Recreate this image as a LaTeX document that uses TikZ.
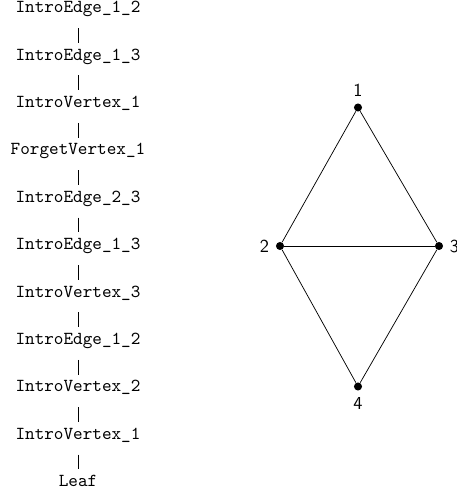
\documentclass[tikz,border=0pt]{standalone}
\usetikzlibrary{positioning}

\begin{document}
\begin{tikzpicture}[x=0.5464pt, y=0.5464pt]
  \newcommand\chainspacing{8.0pt}
  \newcommand\chaindir{below}
  \newcommand\dotsize{4.4pt}

  \tikzset{opnode/.style={font=\ttfamily, inner sep=4pt, text height=5.3pt, text depth=4.2pt}}
  \tikzset{vertex/.style={circle, fill, inner sep=0pt, minimum size=\dotsize}}
  \tikzset{vlabel/.style={font=\sffamily, label distance=0pt}}

  \useasboundingbox (0, 0) rectangle (456, 495);

  % decomposition chain
  \node[opnode] at (78, 483.3) (op1) {IntroEdge\_1\_2};
  \foreach \op/\opid [count=\prevopid from 1] in {IntroEdge\_1\_3/2, IntroVertex\_1/3, ForgetVertex\_1/4, IntroEdge\_2\_3/5, IntroEdge\_1\_3/6, IntroVertex\_3/7, IntroEdge\_1\_2/8, IntroVertex\_2/9, IntroVertex\_1/10, Leaf/11}{
    \node[opnode, \chaindir=\chainspacing of op\prevopid] (op\opid) {\op};
    \draw (op\prevopid.south) -- (op\opid.north);
  }

  % graph
  \node[vertex, label={[vlabel]above:1}] at (358, 387.5) (v1) {};
  \node[vertex, label={[vlabel]left:2}] at (280, 249) (v2) {};
  \node[vertex, label={[vlabel]right:3}] at (439, 249) (v3) {};
  \node[vertex, label={[vlabel]below:4}] at (358, 108.5) (v4) {};
  \foreach \a/\b in {1/2, 1/3, 2/3, 2/4, 3/4}{
    \draw (v\a) -- (v\b);
  }
\end{tikzpicture}
\end{document}
